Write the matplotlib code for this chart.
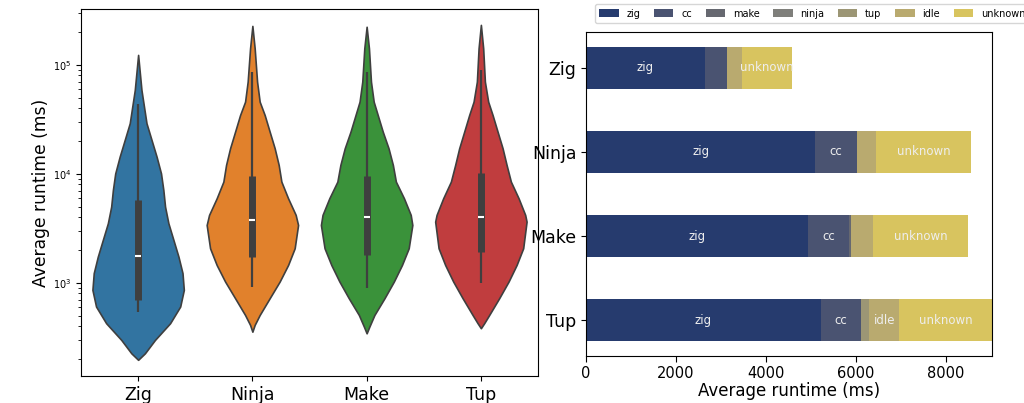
import numpy as np
import matplotlib
matplotlib.use("Agg")
import matplotlib.pyplot as plt

# build systems compared
systems = ["Zig", "Ninja", "Make", "Tup"]
violin_colors = ["#3274a1", "#e1812c", "#3a923a", "#c03d3e"]

# violin outlines: runtime (ms) and relative half width
zig_runtime = [123600, 59000, 29200, 20500, 14400, 10100, 7130, 5010, 3530,
               2480, 1740, 1230, 863, 607, 427, 300, 226, 197]
zig_width = [0, 3.3, 8.3, 13.3, 18.3, 22.7, 25, 26.7, 30,
             35, 40, 44, 45.3, 41.7, 31.7, 16.7, 6.7, 0]

ninja_runtime = [228000, 142000, 70300, 46000, 34700, 24400, 17200, 12100, 8500,
                 5980, 4210, 3400, 2080, 1460, 1030, 724, 508, 412, 357]
ninja_width = [0, 2.3, 4.7, 7.3, 12.3, 17.3, 22.3, 26.3, 29,
               35.7, 43.3, 45.7, 42.3, 35.7, 27.3, 17.3, 7.3, 2.3, 0]

make_runtime = [224000, 142000, 70300, 46000, 34700, 24400, 17200, 12100, 8500,
                5980, 4210, 3400, 2080, 1460, 1030, 724, 508, 397, 345]
make_width = [0, 2.3, 4.3, 7, 11, 16, 21.7, 26, 29,
              37, 43.7, 45.3, 41.7, 35, 27, 17.7, 7.7, 2.7, 0]

tup_runtime = [233000, 142000, 70300, 46000, 34700, 24400, 17200, 12100, 8500,
               5980, 4210, 3650, 2080, 1460, 1030, 724, 508, 427, 384]
tup_width = [0, 2.3, 4, 7.3, 11.7, 16.7, 21.7, 25.7, 30,
             37.7, 44.3, 45.7, 42.3, 35.7, 27.7, 18.3, 8.3, 3.3, 0]

# box stats (ms): lower whisker, q1, median, q3, upper whisker
zig_box = [546, 698, 1770, 5770, 43900]
ninja_box = [925, 1720, 3790, 9600, 86900]
make_box = [893, 1810, 4040, 9600, 85800]
tup_box = [993, 1910, 4010, 10100, 90000]

# average time breakdown (ms) per build system
phases = ["zig", "cc", "make", "ninja", "tup", "idle", "unknown"]
phase_colors = ["#263b6e", "#4a5371", "#666870", "#7f7f7b", "#9c9675", "#b9aa6f", "#d8c45f"]
phase_zig = [2644, 5096, 4941, 5222]
phase_cc = [482, 919, 903, 889]
phase_make = [0, 0, 45, 0]
phase_ninja = [0, 15, 0, 0]
phase_tup = [0, 0, 0, 178]
phase_idle = [341, 414, 489, 674]
phase_unknown = [1111, 2119, 2118, 2059]

profiles = [(zig_runtime, zig_width), (ninja_runtime, ninja_width),
            (make_runtime, make_width), (tup_runtime, tup_width)]
boxes = [zig_box, ninja_box, make_box, tup_box]
breakdown = [phase_zig, phase_cc, phase_make, phase_ninja, phase_tup,
             phase_idle, phase_unknown]

fig = plt.figure(figsize=(10.24, 4.03), dpi=100)

# left: violin plot of runtimes
ax1 = fig.add_axes([0.0791, 0.067, 0.4463, 0.9107])
for i, ((rt, w), box, col) in enumerate(zip(profiles, boxes, violin_colors)):
    rt = np.array(rt, dtype=float)
    w = np.array(w) / max(w) * 0.4
    ax1.fill_betweenx(rt, i - w, i + w, facecolor=col, edgecolor="#3f3f3f",
                      linewidth=1.2, zorder=2)
    ax1.vlines(i, box[0], box[4], color="#3f3f3f", linewidth=1.6, zorder=3)
    ax1.vlines(i, box[1], box[3], color="#3f3f3f", linewidth=5, zorder=3)
    ax1.scatter([i], [box[2]], marker="_", s=22, color="white", linewidths=1.5, zorder=4)
ax1.set_yscale("log")
ax1.set_ylim(140, 326000)
ax1.set_xlim(-0.5, 3.5)
ax1.set_xticks(range(len(systems)))
ax1.set_xticklabels(systems, fontsize=12.5)
ax1.tick_params(axis="y", labelsize=7)
ax1.set_ylabel("Average runtime (ms)", fontsize=12.3, labelpad=2)

# right: stacked horizontal bars of where the time goes
ax2 = fig.add_axes([0.5723, 0.1166, 0.3965, 0.804])
left = np.zeros(len(systems))
for name, vals, col in zip(phases, breakdown, phase_colors):
    vals = np.array(vals, dtype=float)
    bars = ax2.barh(systems, vals, left=left, height=0.5, color=col, label=name)
    for b, v in zip(bars, vals):
        if v > 550:
            ax2.text(b.get_x() + b.get_width() / 2, b.get_y() + b.get_height() / 2,
                     name, ha="center", va="center", color="#eeeeee", fontsize=8.5)
    left += vals
ax2.invert_yaxis()
ax2.set_xlim(0, left.max())
ax2.tick_params(axis="y", labelsize=12.5)
ax2.tick_params(axis="x", labelsize=10.5, length=4, pad=3)
ax2.set_xlabel("Average runtime (ms)", fontsize=12, labelpad=1)

handles, labels = ax2.get_legend_handles_labels()
fig.legend(handles, labels, loc="lower left", bbox_to_anchor=(0.5762, 0.931),
           ncol=7, fontsize=7, frameon=True, columnspacing=1.4,
           borderpad=0.45, handleheight=0.8)

fig.savefig("out.png", dpi=100)
